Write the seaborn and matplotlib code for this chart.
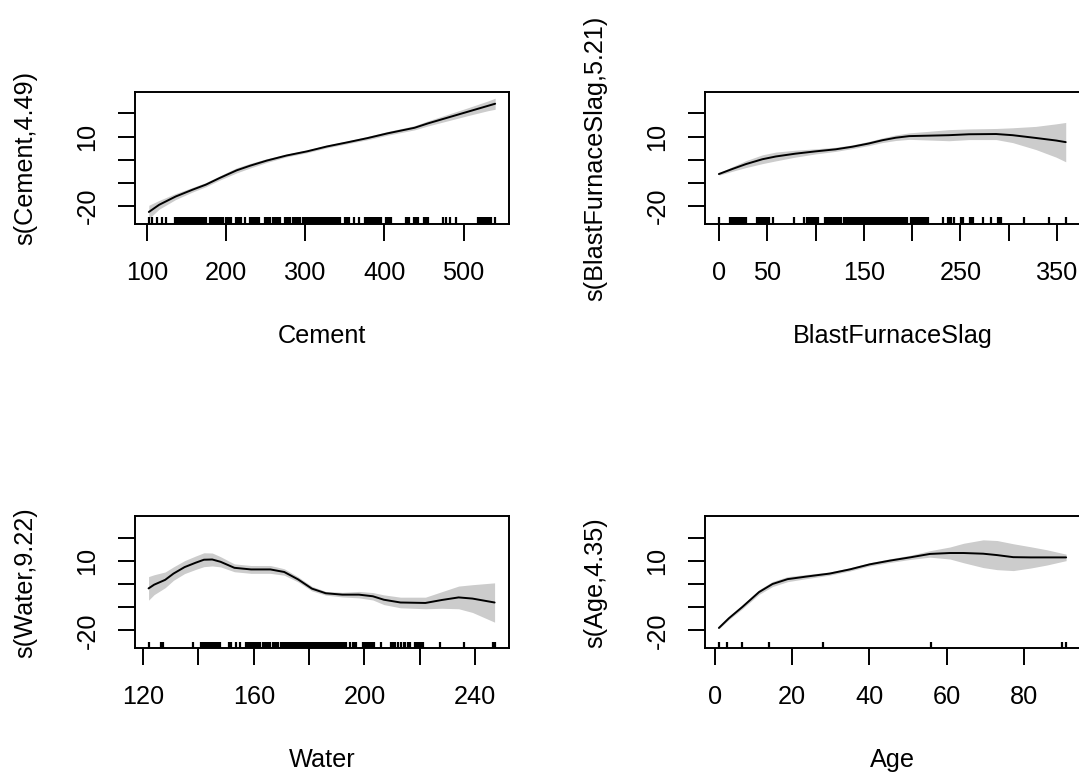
import numpy as np
import pandas as pd
import matplotlib
matplotlib.use("Agg")
import matplotlib.pyplot as plt
import seaborn as sns

# ---------------- data ----------------
cement_x = [102, 115, 136, 157, 174, 191, 200, 213, 230, 251, 276, 302, 327, 353, 378, 404, 438, 455, 480, 506, 531, 540]
cement_fit = [-22.6, -19.5, -15.9, -13.0, -10.8, -8.0, -6.6, -4.6, -2.6, -0.4, 1.8, 3.6, 5.7, 7.5, 9.3, 11.4, 13.8, 15.7, 18.2, 20.8, 23.3, 24.2]
cement_se = [2.9, 1.9, 1.3, 1.0, 0.9, 0.9, 1.0, 1.1, 1.0, 0.8, 0.6, 0.6, 0.6, 0.6, 0.7, 0.8, 0.9, 1.1, 1.4, 1.7, 2.1, 2.4]
cement_rug = [102, 106.4, 112.8, 119.2, 124.3,
              135, 137, 139, 141, 143, 145, 147, 149, 151, 153, 155, 157, 159, 161, 163, 165, 167, 169, 171, 173, 174.5,
              179.5, 181.5, 183.5, 185.5, 187.5, 189.5, 191.5, 193.5, 195.5,
              200, 202, 204, 206, 212.6, 214.6, 216.6, 219, 223.4,
              229.6, 231.6, 233.6, 235.6, 237.6, 239.6, 241.6,
              248.7, 250.7, 252.7, 255, 259.4, 261.4, 263.4, 265.4, 267.8,
              274.2, 276.2, 278.2, 280.5, 284.8, 286.8, 288.8, 290.8, 293.2,
              297.6, 299.6, 301.6, 303.6, 305.6, 307.6, 309.6, 311.6, 313.6, 315.6, 317.6, 319.6, 321.6,
              323.6, 325.6, 327.6, 329.6, 331.5,
              333.6, 335.6, 337.6, 339.6, 341.6, 344.2, 350.6, 352.6, 354.9, 361.3, 367.6,
              376, 378, 380, 382, 384, 386, 388, 390, 392, 394, 395.2,
              401.5, 403.5, 405.5, 407.9, 427, 429, 431.3, 437.7, 439.7, 441.9, 450.4, 452.4, 454.6,
              473.8, 478, 482.3, 490.7,
              518.3, 520.3, 522.3, 524.3, 526.3, 528.3, 530.3, 532.3, 535.3, 540]

slag_x = [0, 14, 28, 45, 59, 79, 100, 121, 138, 155, 169, 183, 197, 218, 238, 259, 287, 304, 328, 349, 359]
slag_fit = [-6.2, -4.0, -1.9, 0.2, 1.4, 2.6, 3.6, 4.5, 5.6, 7.0, 8.4, 9.5, 10.2, 10.4, 10.6, 11.0, 11.1, 10.6, 9.4, 8.3, 7.6]
slag_se = [0.5, 1.0, 1.5, 1.9, 1.9, 1.5, 1.1, 0.9, 0.8, 0.9, 1.0, 1.2, 1.4, 1.9, 2.4, 2.3, 2.4, 3.2, 5.0, 7.2, 8.5]
slag_rug = [0, 12, 13.5, 15, 16.4, 18.9, 20.4, 21.9, 23.4, 24.9, 26.4, 28.2,
            39.6, 41.1, 42.6, 44.1, 45.6, 47.1, 48.6, 50.1, 51.7, 55.8, 77.6, 88,
            91.5, 93, 94.5, 96, 97.5, 99, 100.5, 102, 102.9,
            109.8, 111.3, 112.8, 114.3, 115.8, 117.3, 118.8, 120.3, 121.8, 123.3, 124.8, 126,
            129.5, 131, 132.5, 134, 135.5, 137, 138.5, 140, 141.5, 143, 144.5, 146, 147.5, 149, 150.5,
            152, 153.5, 155, 156.5, 158, 159.5, 161, 162.5, 164, 165.5, 167, 168.5, 170, 171.5, 173,
            174.5, 176, 177.5, 179, 180.5, 182, 183.5, 185, 186.5, 188, 189.5, 191, 192.5, 194, 195.2,
            198.7, 200.2, 201.7, 203.2, 204.7, 205.6, 208, 209.5, 211, 212.5, 214, 216,
            231.5, 236.7, 238.2, 240.1, 243.6, 250.5, 252.3, 259.9, 261.3, 262.7, 273, 281.6,
            288.6, 290.3, 292, 316.2, 342, 359.4]

water_x = [122, 124, 128, 131, 135, 139, 142, 145, 148, 153, 159, 166, 171, 176, 181, 186, 192, 198, 203, 207, 213, 222, 228, 234, 239, 247]
water_fit = [-1.9, -0.3, 1.8, 4.5, 7.3, 9.2, 10.5, 10.6, 9.6, 7.0, 6.3, 6.3, 5.2, 2.0, -2.0, -4.0, -4.6, -4.6, -5.3, -6.8, -8.0, -8.2, -6.9, -5.8, -6.3, -8.0]
water_se = [5.1, 4.3, 3.4, 2.9, 2.8, 2.9, 3.0, 2.8, 2.2, 1.7, 1.7, 1.7, 1.4, 1.1, 1.0, 0.8, 1.0, 1.4, 1.6, 2.1, 2.3, 2.5, 3.6, 4.9, 6.0, 8.5]
water_rug = [122.1, 126.4, 126.8, 127.2, 138, 140.8, 141.4, 142, 142.9, 143.5, 144.1, 144.7, 145.3, 145.9,
             146.5, 147.1, 147.7, 150.9, 151.3, 151.7, 153.7, 154.9,
             157.3, 157.9, 158.5, 159.1, 159.7, 160.3, 160.9, 161.5, 162.1, 163.3, 163.9, 164.5, 165.1, 165.7,
             166.9, 167.5, 168.1, 168.7,
             170.0, 170.6, 171.2, 171.8, 172.4, 173.0, 173.6, 174.2, 174.8, 175.4, 176.0, 176.6, 177.2, 177.8,
             178.4, 179.0, 179.6, 180.2, 180.8, 181.4, 182.0, 182.6, 183.2, 183.8, 184.4, 185.0, 185.6, 186.2,
             186.8, 187.4, 188.0, 188.6, 189.2, 189.8, 190.4, 191.0, 191.6, 192.2, 192.8, 193.4,
             194.6, 195.8, 196.4, 197, 199.4, 200, 200.6, 201.2, 201.8, 202.4, 203, 203.6, 206.1,
             209.7, 210.3, 211.1, 212.1, 213.1, 214.1, 214.5, 215.7, 216.3, 218.1, 218.7, 219.3, 219.9, 220.5, 221.1,
             227.1, 236.1, 246.4, 246.8, 247.2]

age_x = [1, 3.6, 7.1, 11.4, 14.9, 18.8, 23.6, 29.7, 34.9, 40.1, 45.3, 50.5, 55.7, 60.9, 64.4, 69.5, 73.1, 77.3, 81.8, 86.0, 91]
age_fit = [-19.0, -14.8, -9.9, -3.5, 0.0, 2.1, 3.2, 4.5, 6.3, 8.5, 10.1, 11.5, 13.0, 13.4, 13.4, 13.1, 12.5, 11.6, 11.5, 11.5, 11.5]
age_se = [0.4, 0.6, 0.8, 1.0, 1.1, 1.1, 0.9, 0.7, 0.7, 0.7, 0.8, 0.9, 1.4, 2.6, 4.2, 6.0, 6.3, 5.8, 4.6, 3.3, 1.4]
age_rug = [1, 3, 7, 14, 28, 56, 90, 91]

y_ticks = [-20, -10, 0, 10, 20]
y_ticklabels = ["-20", "", "", "10", ""]

cement_ticks = [100, 200, 300, 400, 500]
cement_ticklabels = ["100", "200", "300", "400", "500"]
slag_ticks = [0, 50, 100, 150, 200, 250, 300, 350]
slag_ticklabels = ["0", "50", "", "150", "", "250", "", "350"]
water_ticks = [120, 140, 160, 180, 200, 220, 240]
water_ticklabels = ["120", "", "160", "", "200", "", "240"]
age_ticks = [0, 20, 40, 60, 80]
age_ticklabels = ["0", "20", "40", "60", "80"]

# ---------------- style ----------------
sns.set_theme(style="ticks")
plt.rcParams["font.family"] = ["Liberation Sans", "DejaVu Sans"]
plt.rcParams["text.color"] = "black"
plt.rcParams["axes.labelcolor"] = "black"
plt.rcParams["xtick.color"] = "black"
plt.rcParams["ytick.color"] = "black"

W, H = 1079, 778
fig = plt.figure(figsize=(W / 100, H / 100), dpi=100)
fig.patch.set_facecolor("white")

FS = 18.2
YLIM = (-27.8, 29.4)


def add_ax(l, t, r, b):
    return fig.add_axes([l / W, 1 - b / H, (r - l) / W, (b - t) / H])


panels = [
    dict(box=(135, 91.7, 509, 224), x=cement_x, fit=cement_fit, se=cement_se, rug=cement_rug,
         ticks=cement_ticks, labels=cement_ticklabels, xlabel="Cement", ylabel="s(Cement,4.49)"),
    dict(box=(705, 91.7, 1080, 224), x=slag_x, fit=slag_fit, se=slag_se, rug=slag_rug,
         ticks=slag_ticks, labels=slag_ticklabels, xlabel="BlastFurnaceSlag", ylabel="s(BlastFurnaceSlag,5.21)"),
    dict(box=(135, 516, 509, 648.3), x=water_x, fit=water_fit, se=water_se, rug=water_rug,
         ticks=water_ticks, labels=water_ticklabels, xlabel="Water", ylabel="s(Water,9.22)"),
    dict(box=(705, 516, 1080, 648.3), x=age_x, fit=age_fit, se=age_se, rug=age_rug,
         ticks=age_ticks, labels=age_ticklabels, xlabel="Age", ylabel="s(Age,4.35)"),
]

for p in panels:
    ax = add_ax(*p["box"])
    df = pd.DataFrame({"x": p["x"], "fit": p["fit"], "se": p["se"]})
    ax.fill_between(df["x"], df["fit"] - df["se"], df["fit"] + df["se"], color="#cccccc", lw=0, zorder=1)
    sns.lineplot(data=df, x="x", y="fit", ax=ax, color="black", lw=1.4, estimator=None, sort=False, zorder=3)
    sns.rugplot(x=p["rug"], ax=ax, height=0.05, color="black", linewidth=1.6, expand_margins=False)

    lo, hi = min(p["rug"]), max(p["rug"])
    pad = 0.04 * (hi - lo)
    ax.set_xlim(lo - pad, hi + pad)
    ax.set_ylim(*YLIM)

    ax.set_xticks(p["ticks"], p["labels"])
    ax.set_yticks(y_ticks, y_ticklabels, rotation=90, va="center")
    ax.tick_params(axis="both", direction="out", length=12, width=1.4, labelsize=FS)
    ax.tick_params(axis="x", pad=14.5)
    ax.tick_params(axis="y", pad=13.5)
    for s in ax.spines.values():
        s.set_visible(True)
        s.set_color("black")
        s.set_linewidth(1.4)

    ax.set_xlabel(p["xlabel"], fontsize=FS, va="center")
    ax.xaxis.set_label_coords(0.5, -0.847)
    ax.set_ylabel(p["ylabel"], fontsize=FS, va="center")
    ax.yaxis.set_label_coords(-0.293, 0.5)
    ax.set_facecolor("white")

fig.savefig("out.png", dpi=100, facecolor="white")
